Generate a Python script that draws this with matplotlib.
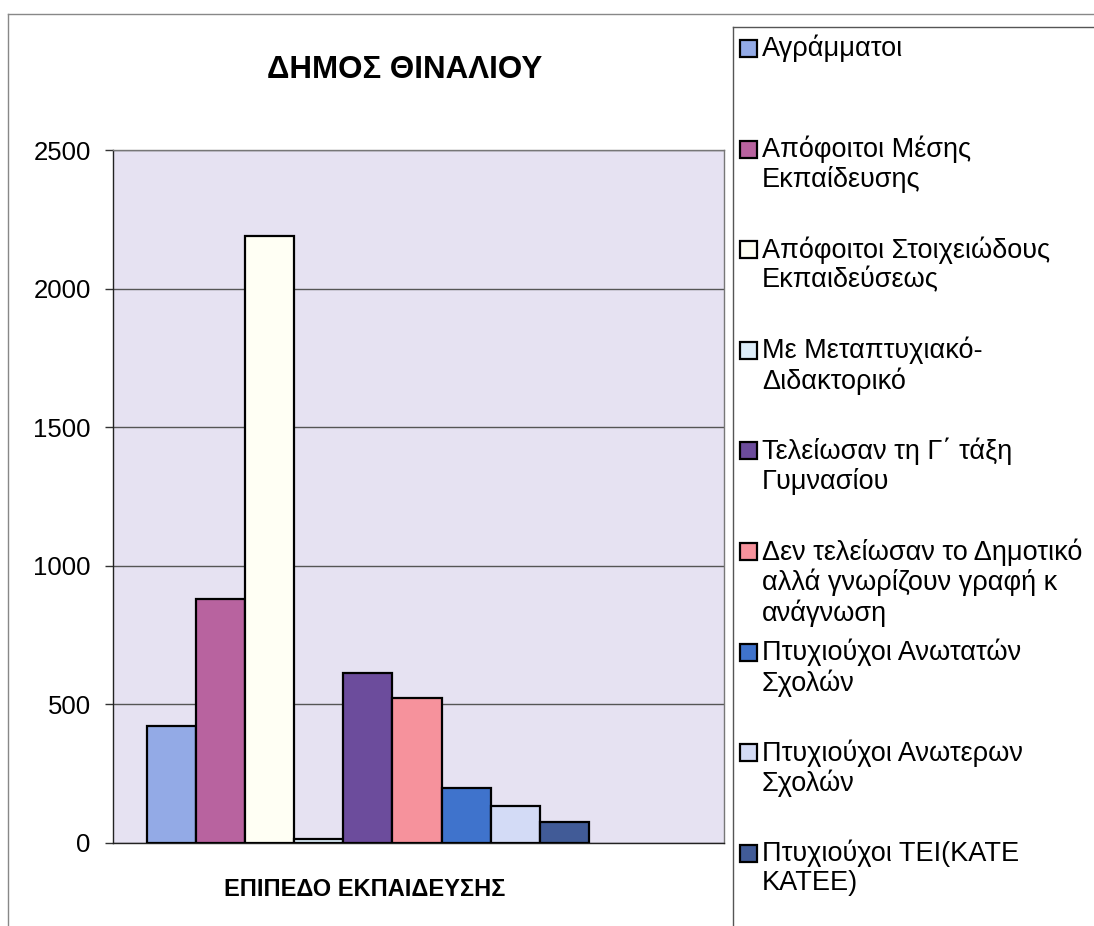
import matplotlib
matplotlib.use("Agg")
import matplotlib.pyplot as plt
from matplotlib.patches import Rectangle

plt.rcParams['font.family'] = ['Liberation Sans', 'DejaVu Sans']

# data
categories = [
    "Αγράμματοι",
    "Απόφοιτοι Μέσης\nΕκπαίδευσης",
    "Απόφοιτοι Στοιχειώδους\nΕκπαιδεύσεως",
    "Με Μεταπτυχιακό-\nΔιδακτορικό",
    "Τελείωσαν τη Γ΄ τάξη\nΓυμνασίου",
    "Δεν τελείωσαν το Δημοτικό\nαλλά γνωρίζουν γραφή κ\nανάγνωση",
    "Πτυχιούχοι Ανωτατών\nΣχολών",
    "Πτυχιούχοι Ανωτερων\nΣχολών",
    "Πτυχιούχοι ΤΕΙ(ΚΑΤΕ\nΚΑΤΕΕ)",
]
values = [423, 880, 2190, 15, 615, 522, 200, 135, 76]
colors = ["#93aae6", "#b8639f", "#fffff4", "#dcecf8", "#6c4c9c",
          "#f6929c", "#3f73cc", "#d3dbf6", "#415b97"]
yticks = [0, 500, 1000, 1500, 2000, 2500]

fig = plt.figure(figsize=(10.94, 9.26), dpi=100)
W, H = 1094, 926

ax = fig.add_axes([113 / W, 1 - 843 / H, (724 - 113) / W, (843 - 150) / H])
ax.set_facecolor("#e6e2f2")
xs = list(range(len(values)))
ax.bar(xs, values, width=1.0, color=colors, edgecolor="black", linewidth=1.6, zorder=3)
ax.set_xlim(-1.19, 11.25)
ax.set_ylim(0, 2500)
ax.set_yticks(yticks)
ax.set_yticklabels([str(t) for t in yticks], fontsize=18.5)
ax.set_xticks([])
ax.yaxis.grid(True, color="#555555", linewidth=1.0, zorder=0)
ax.tick_params(axis="y", length=6, width=1, color="#333333", pad=10)
for s in ax.spines.values():
    s.set_color("#777777")
    s.set_linewidth(1.0)
ax.spines["left"].set_color("#222222")
ax.spines["bottom"].set_color("#222222")

fig.text(405 / W, 1 - 70 / H, "ΔΗΜΟΣ ΘΙΝΑΛΙΟΥ", fontsize=22.5, fontweight="bold",
         ha="center", va="center")
fig.text(365 / W, 1 - 889 / H, "ΕΠΙΠΕΔΟ ΕΚΠΑΙΔΕΥΣΗΣ", fontsize=17, fontweight="bold",
         ha="center", va="center")

# outer chart frame and legend box
fig.add_artist(plt.Line2D([8 / W, 8 / W], [0, 1 - 14 / H], transform=fig.transFigure,
                          color="#888888", linewidth=1.0))
fig.add_artist(plt.Line2D([8 / W, 1], [1 - 14 / H, 1 - 14 / H], transform=fig.transFigure,
                          color="#888888", linewidth=1.0))
fig.add_artist(plt.Line2D([733 / W, 733 / W], [0, 1 - 27 / H], transform=fig.transFigure,
                          color="#555555", linewidth=1.0))
fig.add_artist(plt.Line2D([733 / W, 1], [1 - 27 / H, 1 - 27 / H], transform=fig.transFigure,
                          color="#555555", linewidth=1.0))

# legend entries
for i, (lab, c) in enumerate(zip(categories, colors)):
    top = 40 + i * 100.6
    fig.add_artist(Rectangle((740 / W, 1 - (top + 17) / H), 17 / W, 17 / H,
                             transform=fig.transFigure, facecolor=c,
                             edgecolor="black", linewidth=1.6))
    fig.text(762 / W, 1 - (top - 5) / H, lab, fontsize=19.5, ha="left", va="top",
             linespacing=1.15)

fig.savefig("out.png", dpi=100)
